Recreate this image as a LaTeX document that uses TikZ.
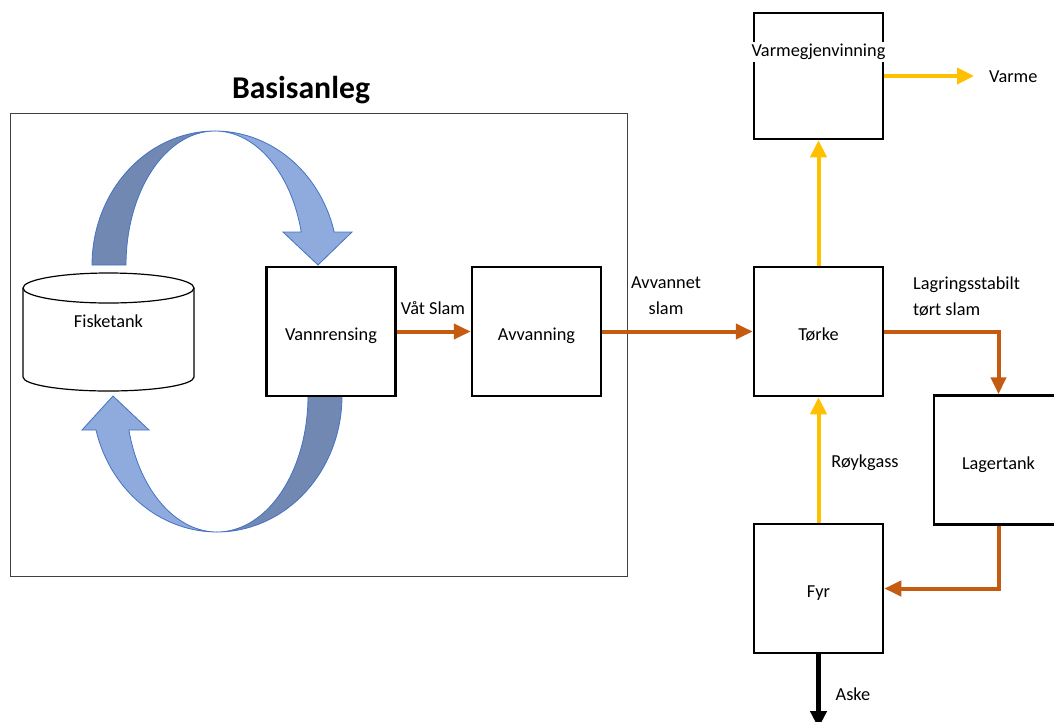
\documentclass[tikz,border=0pt]{standalone}
\usepackage{fontspec}
\setmainfont{Carlito}
\usetikzlibrary{arrows.meta}
\definecolor{orng}{RGB}{197,90,17}
\definecolor{yllw}{RGB}{255,192,0}
\definecolor{dkblue}{RGB}{113,136,178}
\definecolor{ltblue}{RGB}{143,170,220}
\definecolor{edgeblue}{RGB}{68,114,196}
\begin{document}
\begin{tikzpicture}[x=1pt,y=-1pt,
  box/.style={draw, line width=2.5pt, minimum width=129pt, minimum height=129pt, inner sep=0pt, text height=18pt, text depth=0pt, font=\fontsize{18.3}{22}\selectfont},
  lbl/.style={font=\fontsize{18.3}{26}\selectfont, inner sep=0pt},
  flowo/.style={draw=orng, line width=4pt, -{Triangle[length=17pt,width=15pt]}},
  flowy/.style={draw=yllw, line width=4pt, -{Triangle[length=17pt,width=16pt]}},
  flowk/.style={draw=black, line width=5pt, -{Triangle[length=17pt,width=16pt]}},
  ribbonD/.style={fill=dkblue, draw=edgeblue, line width=0.8pt},
  ribbonL/.style={fill=ltblue, draw=edgeblue, line width=0.8pt}
]
\useasboundingbox (0,0) rectangle (1054,721);
\clip (0,0) rectangle (1054,721);

% frame and title
\node[draw=black!75, line width=1.2pt, minimum width=617pt, minimum height=463pt, anchor=north west, inner sep=0pt] (frame) at (10,113) {};
\node[font=\fontsize{31.7}{36}\selectfont\bfseries, inner sep=0pt] (title) at (301,90) {Basisanleg};

% blue ribbons (top)
\path[ribbonD] plot[domain=180:90, samples=40, variable=\t] ({215+123*cos(\t)},{265-134*sin(\t)})
  -- plot[domain=90:180, samples=40, variable=\t] ({215+89*cos(\t)},{265-134*sin(\t)}) -- cycle;
\path[ribbonL] plot[domain=90:14.26, samples=40, variable=\t] ({215+123*cos(\t)},{265-134*sin(\t)})
  -- (352,232) -- (318,265) -- (283,232)
  -- plot[domain=14.26:90, samples=40, variable=\t] ({215+89*cos(\t)},{265-134*sin(\t)}) -- cycle;
% blue ribbons (bottom)
\path[ribbonD] plot[domain=0:90, samples=40, variable=\t] ({217+125*cos(\t)},{396+136*sin(\t)})
  -- plot[domain=90:0, samples=40, variable=\t] ({217+91*cos(\t)},{396+136*sin(\t)}) -- cycle;
\path[ribbonL] plot[domain=90:165.52, samples=40, variable=\t] ({217+125*cos(\t)},{396+136*sin(\t)})
  -- (82,430) -- (113,396) -- (149,430)
  -- plot[domain=165.52:90, samples=40, variable=\t] ({217+91*cos(\t)},{396+136*sin(\t)}) -- cycle;

% fish tank cylinder
\path[fill=white, draw, line width=1.2pt] (23,288) -- (23,377) arc[start angle=180, end angle=360, x radius=85.5pt, y radius=14pt] -- (194,288);
\draw[fill=white, line width=1.2pt] (108.5,288) ellipse[x radius=85.5pt, y radius=15pt];
\node[lbl] (fisk) at (108.5,321) {Fisketank};

% boxes
\node[box] (vann) at (331,331.5) {Vannrensing};
\node[box] (avv) at (536.5,331.5) {Avvanning};
\node[box] (tor) at (818.5,331.5) {Tørke};
\node[box, minimum height=126pt] (varm) at (818.5,76) {};
\node[lbl, fill=white, inner xsep=1pt, inner ysep=2pt] (varmtxt) at (818.5,52) {Varmegjenvinning};
\node[box] (lager) at (998.5,460) {Lagertank};
\node[box] (fyr) at (818.5,588.5) {Fyr};

% labels
\node[lbl] (vatslam) at (433,308) {Våt Slam};
\node[lbl, align=center] (avvslam) at (666,296) {Avvannet\\slam};
\node[lbl, align=left, anchor=west] (lagr) at (913,296) {Lagringsstabilt\\tørt slam};
\node[lbl] (royk) at (865,463) {Røykgass};
\node[lbl] (aske) at (853,694) {Aske};
\node[lbl, anchor=west, inner xsep=15pt] (varme) at (974,77) {Varme};
\coordinate (askeend) at (818.5,728);

% connectors
\draw[flowo] (vann.east) -- (avv.west);
\draw[flowo] (avv.east) -- (tor.west);
\draw[flowo] (tor.east) -| (lager.north);
\draw[flowo] (lager.south) |- (fyr.east);
\draw[flowy] (fyr.north) -- (tor.south);
\draw[flowy] (tor.north) -- (varm.south);
\draw[flowy] (varm.east) -- (varme.west |- varm.east);
\draw[flowk] (fyr.south) -- (askeend);
\end{tikzpicture}
\end{document}
